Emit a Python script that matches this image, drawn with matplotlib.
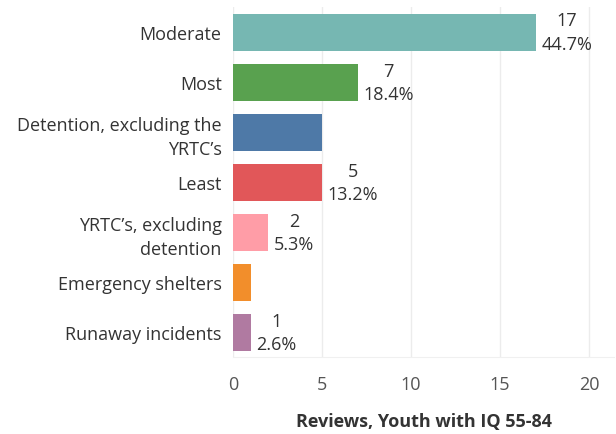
import matplotlib
matplotlib.use("Agg")
import matplotlib.pyplot as plt

categories = ["Moderate", "Most", "Detention, excluding the\nYRTC\u2019s", "Least",
              "YRTC\u2019s, excluding\ndetention", "Emergency shelters", "Runaway incidents"]
values = [17, 7, 5, 5, 2, 1, 1]
pct_labels = ["44.7%", "18.4%", None, "13.2%", "5.3%", None, "2.6%"]
colors = ["#76B7B2", "#59A14F", "#4E79A7", "#E15759", "#FF9DA7", "#F28E2B", "#B07AA1"]
xticks = [0, 5, 10, 15, 20]
xlabel = "Reviews, Youth with IQ 55-84"

plt.rcParams['font.family'] = ['Open Sans', 'DejaVu Sans']
txt = "#333333"
fs = 13

fig = plt.figure(figsize=(6.16, 4.35), dpi=100)
ax = fig.add_axes([0.378, 0.176, 0.619, 0.805])

y = list(range(len(categories)))
ax.barh(y, values, height=0.74, color=colors)
ax.set_ylim(len(categories) - 0.5, -0.5)
ax.set_xlim(0, 21.4)

for yi, v, p in zip(y, values, pct_labels):
    if p is None:
        continue
    ax.annotate(f"{v}\n{p}", xy=(v, yi), xytext=(4, 0), textcoords="offset points",
                ha="left", va="center", multialignment="center",
                fontsize=fs, color=txt, linespacing=1.4)

ax.set_yticks(y)
ax.set_yticklabels(categories, fontsize=fs, color=txt, linespacing=1.4)
ax.set_xticks(xticks)
ax.set_xticklabels([str(t) for t in xticks], fontsize=fs, color="#555555")
ax.tick_params(axis="both", length=0)
ax.tick_params(axis="x", pad=13)
ax.tick_params(axis="y", pad=8)
ax.set_xlabel(xlabel, fontsize=fs, fontweight="bold", color=txt, labelpad=13)

ax.xaxis.grid(True, color="#ececec", linewidth=1)
ax.set_axisbelow(True)
for s in ["top", "right", "left"]:
    ax.spines[s].set_visible(False)
ax.spines["bottom"].set_color("#f0f0f0")

fig.savefig("out.png", dpi=100)
